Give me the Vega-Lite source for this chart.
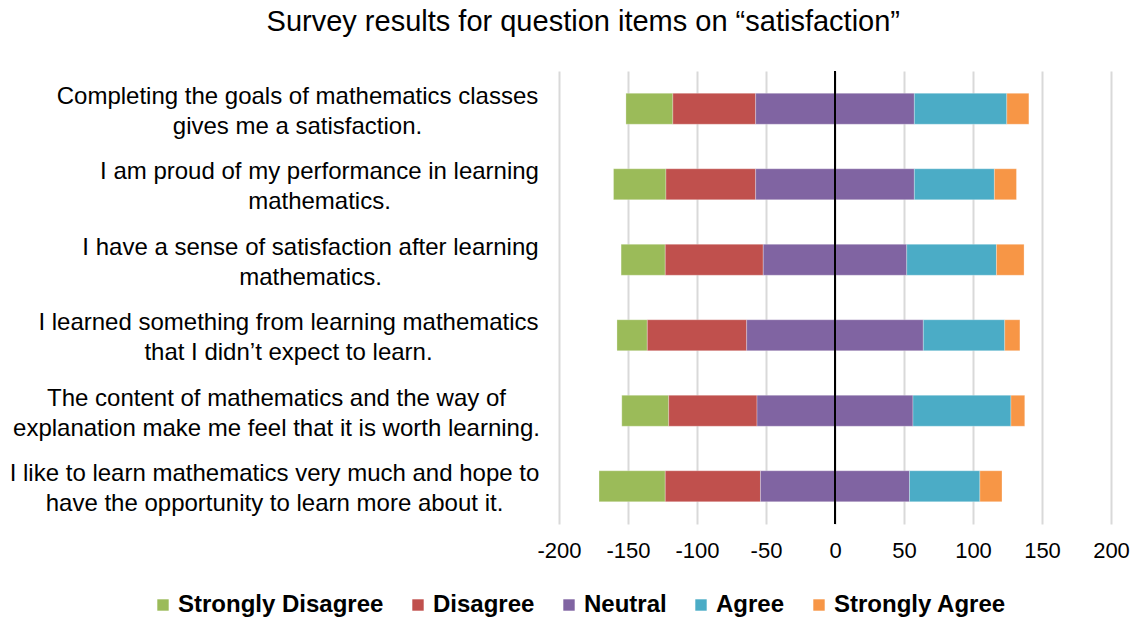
{
  "$schema": "https://vega.github.io/schema/vega-lite/v6.json",
  "width": 552,
  "height": 453,
  "autosize": {"type": "none"},
  "padding": {"left": 559, "top": 71, "right": 26, "bottom": 95},
  "background": "white",
  "title": {
    "text": "Survey results for question items on “satisfaction”",
    "font": "Liberation Sans",
    "fontSize": 29,
    "fontWeight": "normal",
    "color": "#000000",
    "anchor": "middle",
    "frame": "bounds",
    "offset": 33,
    "dx": 14
  },
  "config": {
    "view": {"stroke": null},
    "font": "Liberation Sans"
  },
  "datasets": {
    "responses": [
      {"question": "Completing the goals of mathematics classes\ngives me a satisfaction.", "response": "Strongly Disagree", "rank": 3, "value": -34},
      {"question": "Completing the goals of mathematics classes\ngives me a satisfaction.", "response": "Disagree", "rank": 2, "value": -60},
      {"question": "Completing the goals of mathematics classes\ngives me a satisfaction.", "response": "Neutral", "rank": 1, "value": -57.5},
      {"question": "Completing the goals of mathematics classes\ngives me a satisfaction.", "response": "Neutral", "rank": 1, "value": 57.5},
      {"question": "Completing the goals of mathematics classes\ngives me a satisfaction.", "response": "Agree", "rank": 2, "value": 67},
      {"question": "Completing the goals of mathematics classes\ngives me a satisfaction.", "response": "Strongly Agree", "rank": 3, "value": 16},

      {"question": "I am proud of my performance in learning\nmathematics.", "response": "Strongly Disagree", "rank": 3, "value": -38},
      {"question": "I am proud of my performance in learning\nmathematics.", "response": "Disagree", "rank": 2, "value": -65},
      {"question": "I am proud of my performance in learning\nmathematics.", "response": "Neutral", "rank": 1, "value": -57.5},
      {"question": "I am proud of my performance in learning\nmathematics.", "response": "Neutral", "rank": 1, "value": 57.5},
      {"question": "I am proud of my performance in learning\nmathematics.", "response": "Agree", "rank": 2, "value": 58},
      {"question": "I am proud of my performance in learning\nmathematics.", "response": "Strongly Agree", "rank": 3, "value": 16},

      {"question": "I have a sense of satisfaction after learning\nmathematics.", "response": "Strongly Disagree", "rank": 3, "value": -32},
      {"question": "I have a sense of satisfaction after learning\nmathematics.", "response": "Disagree", "rank": 2, "value": -71},
      {"question": "I have a sense of satisfaction after learning\nmathematics.", "response": "Neutral", "rank": 1, "value": -52},
      {"question": "I have a sense of satisfaction after learning\nmathematics.", "response": "Neutral", "rank": 1, "value": 52},
      {"question": "I have a sense of satisfaction after learning\nmathematics.", "response": "Agree", "rank": 2, "value": 65},
      {"question": "I have a sense of satisfaction after learning\nmathematics.", "response": "Strongly Agree", "rank": 3, "value": 20},

      {"question": "I learned something from learning mathematics\nthat I didn’t expect to learn.", "response": "Strongly Disagree", "rank": 3, "value": -22},
      {"question": "I learned something from learning mathematics\nthat I didn’t expect to learn.", "response": "Disagree", "rank": 2, "value": -72},
      {"question": "I learned something from learning mathematics\nthat I didn’t expect to learn.", "response": "Neutral", "rank": 1, "value": -64},
      {"question": "I learned something from learning mathematics\nthat I didn’t expect to learn.", "response": "Neutral", "rank": 1, "value": 64},
      {"question": "I learned something from learning mathematics\nthat I didn’t expect to learn.", "response": "Agree", "rank": 2, "value": 59},
      {"question": "I learned something from learning mathematics\nthat I didn’t expect to learn.", "response": "Strongly Agree", "rank": 3, "value": 11},

      {"question": "The content of mathematics and the way of\nexplanation make me feel that it is worth learning.", "response": "Strongly Disagree", "rank": 3, "value": -34},
      {"question": "The content of mathematics and the way of\nexplanation make me feel that it is worth learning.", "response": "Disagree", "rank": 2, "value": -64},
      {"question": "The content of mathematics and the way of\nexplanation make me feel that it is worth learning.", "response": "Neutral", "rank": 1, "value": -56.5},
      {"question": "The content of mathematics and the way of\nexplanation make me feel that it is worth learning.", "response": "Neutral", "rank": 1, "value": 56.5},
      {"question": "The content of mathematics and the way of\nexplanation make me feel that it is worth learning.", "response": "Agree", "rank": 2, "value": 71},
      {"question": "The content of mathematics and the way of\nexplanation make me feel that it is worth learning.", "response": "Strongly Agree", "rank": 3, "value": 10},

      {"question": "I like to learn mathematics very much and hope to\nhave the opportunity to learn more about it.", "response": "Strongly Disagree", "rank": 3, "value": -48},
      {"question": "I like to learn mathematics very much and hope to\nhave the opportunity to learn more about it.", "response": "Disagree", "rank": 2, "value": -69},
      {"question": "I like to learn mathematics very much and hope to\nhave the opportunity to learn more about it.", "response": "Neutral", "rank": 1, "value": -54},
      {"question": "I like to learn mathematics very much and hope to\nhave the opportunity to learn more about it.", "response": "Neutral", "rank": 1, "value": 54},
      {"question": "I like to learn mathematics very much and hope to\nhave the opportunity to learn more about it.", "response": "Agree", "rank": 2, "value": 51},
      {"question": "I like to learn mathematics very much and hope to\nhave the opportunity to learn more about it.", "response": "Strongly Agree", "rank": 3, "value": 16}
    ],
    "zero": [{"value": 0}]
  },
  "layer": [
    {
      "data": {"name": "responses"},
      "mark": {"type": "bar", "stroke": "white", "strokeOpacity": 0.35, "strokeWidth": 0.8},
      "encoding": {
        "y": {
          "field": "question",
          "type": "nominal",
          "sort": null,
          "scale": {"paddingInner": 0.59, "paddingOuter": 0.295},
          "axis": {
            "title": null,
            "domain": false,
            "ticks": false,
            "grid": false,
            "labelExpr": "split(datum.label, '\\n')",
            "labelFontSize": 24,
            "labelFont": "Liberation Sans",
            "labelColor": "#000000",
            "labelLimit": 0,
            "labelAlign": "center",
            "labelLineHeight": 30,
            "labelOffset": -12,
            "labelPadding": {"expr": "indexof(datum.value, 'Completing') === 0 ? 262 : indexof(datum.value, 'I am') === 0 ? 240 : indexof(datum.value, 'I have') === 0 ? 249 : indexof(datum.value, 'I learned') === 0 ? 271 : indexof(datum.value, 'The content') === 0 ? 283 : 285"}
          }
        },
        "x": {
          "field": "value",
          "type": "quantitative",
          "stack": "zero",
          "scale": {"domain": [-200, 200], "nice": false},
          "axis": {
            "title": null,
            "values": [-200, -150, -100, -50, 0, 50, 100, 150, 200],
            "labelExpr": "'' + datum.value",
            "labelFlush": false,
            "labelOverlap": false,
            "domain": false,
            "ticks": false,
            "grid": true,
            "gridColor": "#d9d9d9",
            "gridWidth": 2,
            "labelFontSize": 22,
            "labelFont": "Liberation Sans",
            "labelColor": "#000000",
            "labelPadding": 16
          }
        },
        "color": {
          "field": "response",
          "type": "nominal",
          "scale": {
            "domain": ["Strongly Disagree", "Disagree", "Neutral", "Agree", "Strongly Agree"],
            "range": ["#9BBB59", "#C0504D", "#8064A2", "#4BACC6", "#F79646"]
          },
          "legend": {
            "title": null,
            "orient": "none",
            "direction": "horizontal",
            "legendX": -408,
            "legendY": 522,
            "symbolType": "square",
            "symbolSize": 130,
            "symbolStrokeWidth": 0,
            "symbolOpacity": 1,
            "labelFontSize": 24,
            "labelFontWeight": "bold",
            "labelFont": "Liberation Sans",
            "labelColor": "#000000",
            "labelOffset": 3,
            "labelLimit": 0,
            "columnPadding": 22
          }
        },
        "order": {"field": "rank", "type": "quantitative"}
      }
    },
    {
      "data": {"name": "zero"},
      "mark": {"type": "rule", "color": "#000000", "strokeWidth": 2},
      "encoding": {
        "x": {"field": "value", "type": "quantitative"}
      }
    }
  ]
}
